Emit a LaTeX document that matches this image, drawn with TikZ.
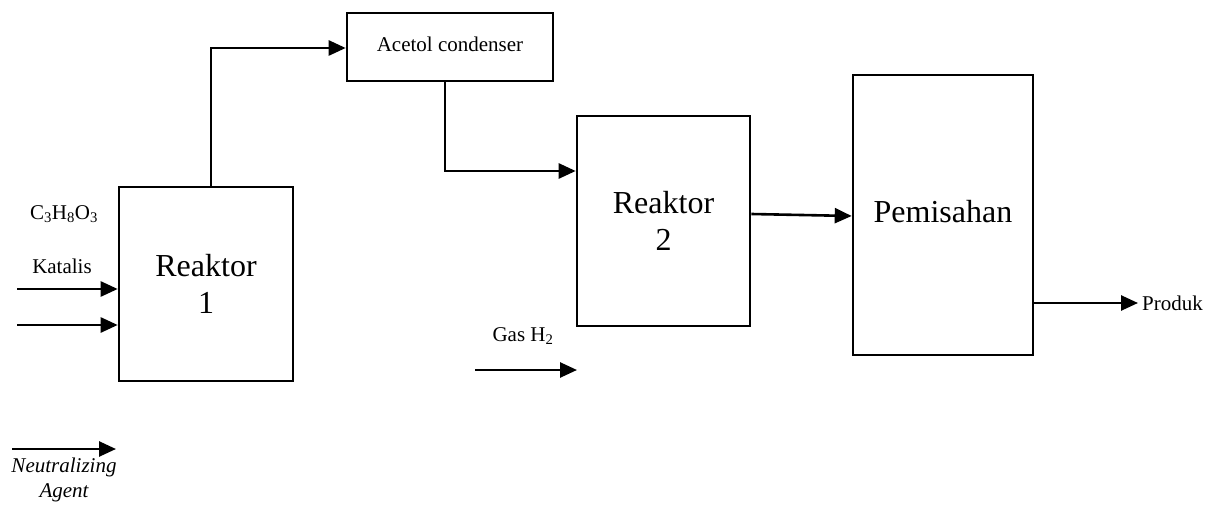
\documentclass[tikz,border=0pt]{standalone}
\usepackage{fontspec}
\setmainfont{Liberation Serif}
\usetikzlibrary{arrows.meta}
\tikzset{
  box/.style={draw=black, line width=2.6pt, rectangle, inner sep=0pt, align=center},
  bigtxt/.style={font=\fontsize{32}{37}\selectfont},
  smalltxt/.style={font=\fontsize{21}{26}\selectfont, align=center, inner sep=0pt},
  flow/.style={line width=2.6pt, -{Triangle[length=17pt,width=15pt]}},
  pipe/.style={line width=2.6pt}
}
\begin{document}
\begin{tikzpicture}[x=1pt,y=-1pt]
\useasboundingbox (0,0) rectangle (1220,505);
% boxes
\node[box,bigtxt,minimum width=174pt,minimum height=194pt] (R1) at (206,284) {Reaktor\\1};
\node[box,smalltxt,draw,line width=2.6pt,minimum width=206pt,minimum height=68pt] (AC) at (450,47) {\raisebox{5pt}{Acetol condenser}};
\node[box,bigtxt,minimum width=173pt,minimum height=210pt] (R2) at (663.5,221) {Reaktor\\2};
\node[box,bigtxt,minimum width=180pt,minimum height=280pt] (PM) at (943,215) {\raisebox{8pt}{Pemisahan}};
% labels
\node[smalltxt] (lc) at (64,214) {C\textsubscript{3}H\textsubscript{8}O\textsubscript{3}};
\node[smalltxt] (lk) at (62,266) {Katalis};
\node[smalltxt,font=\fontsize{21}{25}\selectfont\itshape] (ln) at (64,480) {Neutralizing\\Agent};
\node[smalltxt] (lg) at (523,336) {Gas H\textsubscript{2}};
\node[smalltxt,anchor=west] (lp) at (1142,303) {Produk};
% free ends
\coordinate (in1) at (17,289);
\coordinate (in2) at (17,325);
\coordinate (na) at (12,449);
\coordinate (nb) at (116,449);
\coordinate (ga) at (475,370);
\coordinate (gb) at (577,370);
\coordinate (po) at (1138,303);
\coordinate (r1top) at (211,187);
\coordinate (acbot) at (445,81);
% connectors
\draw[flow] (in1) -- (in1 -| R1.west);
\draw[flow] (in2) -- (in2 -| R1.west);
\draw[flow] (na) -- (nb);
\draw[flow] (ga) -- (gb);
\draw[flow] (r1top) |- (AC.west |- 0,48);
\draw[flow] (acbot) |- (R2.west |- 0,171);
\draw[flow] (R2.east |- 0,214) -- (PM.west |- 0,216);
\draw[flow] (PM.east |- po) -- (po);
\end{tikzpicture}
\end{document}
